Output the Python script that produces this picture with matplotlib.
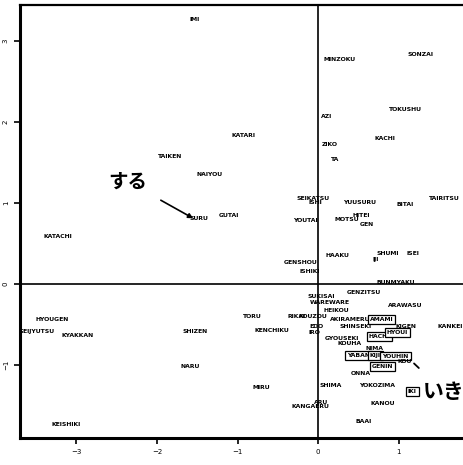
import matplotlib
matplotlib.use("Agg")
import matplotlib.pyplot as plt

# word labels and their coordinates (dim 1, dim 2)
words = ["IMI", "MINZOKU", "SONZAI", "TOKUSHU", "AZI", "KATARI", "KACHI", "ZIKO", "TA",
         "TAIKEN", "NAIYOU", "SURU", "GUTAI", "KATACHI", "SEIKATSU", "ISHI", "YUUSURU",
         "BITAI", "TAIRITSU", "YOUTAI", "MOTSU", "HITEI", "GEN", "HAAKU", "SHUMI", "IJI",
         "ISEI", "GENSHOU", "ISHIKI", "BUNMYAKU", "GENZITSU", "SUKISAI", "WAREWARE",
         "HEIKOU", "ARAWASU", "RIKAI", "KOUZOU", "AKIRAMERU", "AMAMI", "SHINSEKI", "KIGEN",
         "KANKEI", "EDO", "IRO", "HACHI", "HYOUI", "GYOUSEKI", "KOUHA", "NIMA", "YABAN",
         "KIJI", "YOUHIN", "KOU", "GENIN", "ONNA", "TORU", "KENCHIKU", "SHIZEN", "NARU",
         "MIRU", "SHIMA", "YOKOZIMA", "IKI", "KANGAERU", "ARU", "KANOU", "BAAI",
         "KEISHIKI", "HYOUGEN", "GEIJYUTSU", "KYAKKAN"]
dim1 = [-1.53, 0.27, 1.27, 1.08, 0.11, -0.93, 0.83, 0.14, 0.21,
        -1.84, -1.35, -1.48, -1.11, -3.23, -0.06, -0.04, 0.52,
        1.08, 1.57, -0.16, 0.36, 0.53, 0.61, 0.24, 0.86, 0.71,
        1.18, -0.22, -0.10, 0.96, 0.57, 0.04, 0.14,
        0.22, 1.08, -0.27, -0.06, 0.40, 0.79, 0.46, 1.09,
        1.64, -0.02, -0.05, 0.76, 0.98, 0.29, 0.39, 0.70, 0.50,
        0.71, 0.96, 1.07, 0.80, 0.53, -0.82, -0.57, -1.53, -1.59,
        -0.70, 0.16, 0.73, 1.17, -0.09, 0.04, 0.80, 0.57,
        -3.13, -3.30, -3.49, -2.99]
dim2 = [3.26, 2.77, 2.83, 2.15, 2.06, 1.83, 1.79, 1.72, 1.53,
        1.57, 1.35, 0.81, 0.84, 0.58, 1.06, 1.00, 1.00,
        0.98, 1.06, 0.78, 0.79, 0.85, 0.73, 0.35, 0.38, 0.30,
        0.38, 0.26, 0.15, 0.02, -0.10, -0.16, -0.23,
        -0.33, -0.26, -0.40, -0.40, -0.44, -0.44, -0.53, -0.53,
        -0.53, -0.53, -0.60, -0.65, -0.60, -0.67, -0.73, -0.79, -0.88,
        -0.88, -0.89, -0.96, -1.02, -1.11, -0.40, -0.57, -0.58, -1.02,
        -1.28, -1.25, -1.25, -1.33, -1.51, -1.46, -1.48, -1.70,
        -1.73, -0.44, -0.59, -0.64]
boxed = ["AMAMI", "HACHI", "HYOUI", "YABAN", "KIJI", "YOUHIN", "GENIN", "IKI"]

xticks = [-3, -2, -1, 0, 1]
yticks = [-1, 0, 1, 2, 3]

fig = plt.figure(figsize=(4.64, 4.65), dpi=100)
ax = fig.add_axes([0.043, 0.058, 0.957, 0.931])
ax.set_xlim(-3.70, 1.81)
ax.set_ylim(-1.90, 3.44)

ax.axhline(0, color="black", lw=1.2)
ax.axvline(0, color="black", lw=1.2)

lab_font = ["Liberation Sans Narrow", "DejaVu Sans"]
for w, x, y in zip(words, dim1, dim2):
    kw = {}
    if w in boxed:
        kw["bbox"] = dict(boxstyle="square,pad=0.3", fc="white", ec="black", lw=0.9)
    ax.text(x, y, w, ha="center", va="center", fontsize=4.4, fontweight="bold",
            family=lab_font, **kw)

jp = ["Noto Sans CJK JP", "DejaVu Sans"]
ax.annotate("する", xy=(-1.55, 0.81), xytext=(-2.36, 1.26), ha="center", va="center",
            fontsize=14, fontweight="bold", family=jp,
            arrowprops=dict(arrowstyle="-|>", color="black", lw=1.2, shrinkA=9, shrinkB=0,
                            mutation_scale=7))
ax.annotate("いき", xy=(1.19, -0.98), xytext=(1.56, -1.33), ha="center", va="center",
            fontsize=15, fontweight="bold", family=jp,
            arrowprops=dict(arrowstyle="-", color="black", lw=1.3, shrinkA=11, shrinkB=0))

ax.set_xticks(xticks)
ax.set_yticks(yticks)
ax.tick_params(labelsize=5, length=4, width=1.2, direction="out", pad=4)
for t in ax.get_yticklabels():
    t.set_rotation(90)
    t.set_va("center")
ax.spines["right"].set_visible(False)
ax.spines["left"].set_linewidth(2.2)
ax.spines["bottom"].set_linewidth(2.2)
ax.spines["top"].set_linewidth(1.6)

fig.savefig("out.png", dpi=100)
